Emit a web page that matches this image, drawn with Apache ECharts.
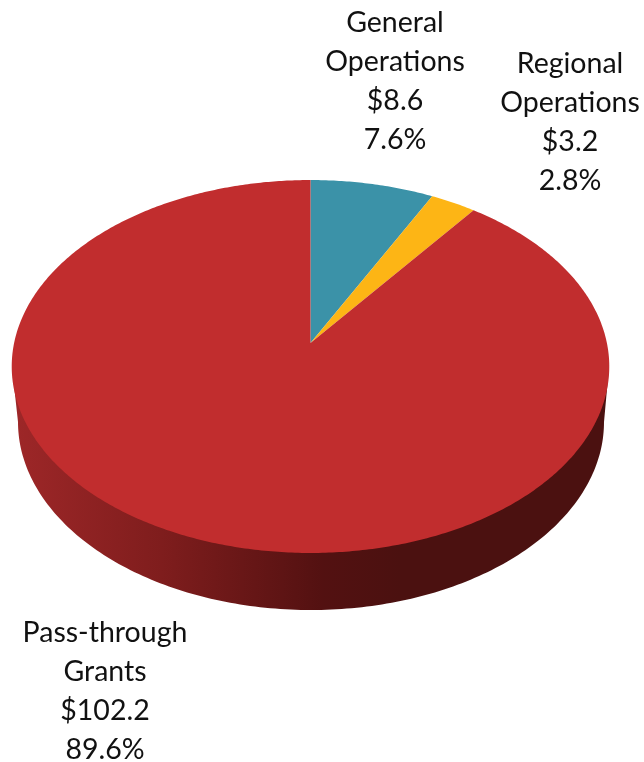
<!DOCTYPE html>
<html>
<head>
<meta charset="utf-8">
<style>
  html, body { margin: 0; padding: 0; background: #fff; }
  #main { width: 644px; height: 762px; }
</style>
<script src="https://cdn.jsdelivr.net/npm/echarts@6/dist/echarts.min.js"></script>
</head>
<body>
<div id="main"></div>
<script>
// 数据
var categories = ['General\nOperations', 'Regional\nOperations', 'Pass-through\nGrants'];
var amounts = [8.6, 3.2, 102.2];
var amountLabels = ['$8.6', '$3.2', '$102.2'];
var shareLabels = ['7.6%', '2.8%', '89.6%'];
var sliceColors = ['#3b92a8', '#fdb515', '#c12d2e'];

// tilted disc, a circle seen in perspective
var apexX = 310.5, apexY = 343;
var radiusX = 296.4, radiusY = 183.5, tilt = 0.126;
var labelAnchors = [[395, 3], [570, 44], [105, 613]];

var total = 0;
for (var i = 0; i < amounts.length; i++) {
    total += amounts[i];
}

function discPoint(angle) {
    var u = Math.sin(angle), v = Math.cos(angle);
    var d = 1 + tilt * v;
    return [apexX + radiusX * u / d, apexY - radiusY * v / d];
}

function renderSlice(params, api) {
    var idx = params.dataIndex;
    var before = 0;
    for (var j = 0; j < idx; j++) {
        before += amounts[j];
    }
    var start = before / total * Math.PI * 2;
    var end = (before + api.value(0)) / total * Math.PI * 2;
    var points = [[apexX, apexY]];
    var steps = Math.max(4, Math.ceil((end - start) / 0.01));
    for (var k = 0; k <= steps; k++) {
        points.push(discPoint(start + (end - start) * k / steps));
    }
    return {
        type: 'group',
        children: [{
            type: 'polygon',
            shape: { points: points },
            style: { fill: sliceColors[idx] }
        }, {
            type: 'text',
            x: labelAnchors[idx][0],
            y: labelAnchors[idx][1],
            z2: 10,
            style: {
                text: categories[idx] + '\n' + amountLabels[idx] + '\n' + shareLabels[idx],
                fill: '#111',
                font: '28.5px Lato',
                lineHeight: 39,
                align: 'center',
                verticalAlign: 'top'
            }
        }]
    };
}

// side wall under the disc
function renderWall() {
    var points = [[12, 367]];
    for (var a = 0; a <= 180; a++) {
        var t = a / 180 * Math.PI;
        points.push([311 - 293 * Math.cos(t), 422 + 188 * Math.sin(t)]);
    }
    points.push([609, 367]);
    return {
        type: 'polygon',
        shape: { points: points },
        style: {
            fill: new echarts.graphic.LinearGradient(0, 0, 1, 0, [
                { offset: 0, color: '#9e2728' },
                { offset: 0.25, color: '#7f1d1d' },
                { offset: 0.52, color: '#531111' },
                { offset: 0.65, color: '#4b1110' },
                { offset: 1, color: '#4b1110' }
            ])
        }
    };
}

var myChart = echarts.init(document.getElementById('main'));
var option = {
    animation: false,
    backgroundColor: '#fff',
    series: [{
        name: 'wall',
        type: 'custom',
        coordinateSystem: 'none',
        renderItem: renderWall,
        data: [total],
        silent: true
    }, {
        name: 'slices',
        type: 'custom',
        coordinateSystem: 'none',
        renderItem: renderSlice,
        data: amounts.map(function (v) { return [v]; }),
        silent: true
    }]
};
myChart.setOption(option);
</script>
</body>
</html>
